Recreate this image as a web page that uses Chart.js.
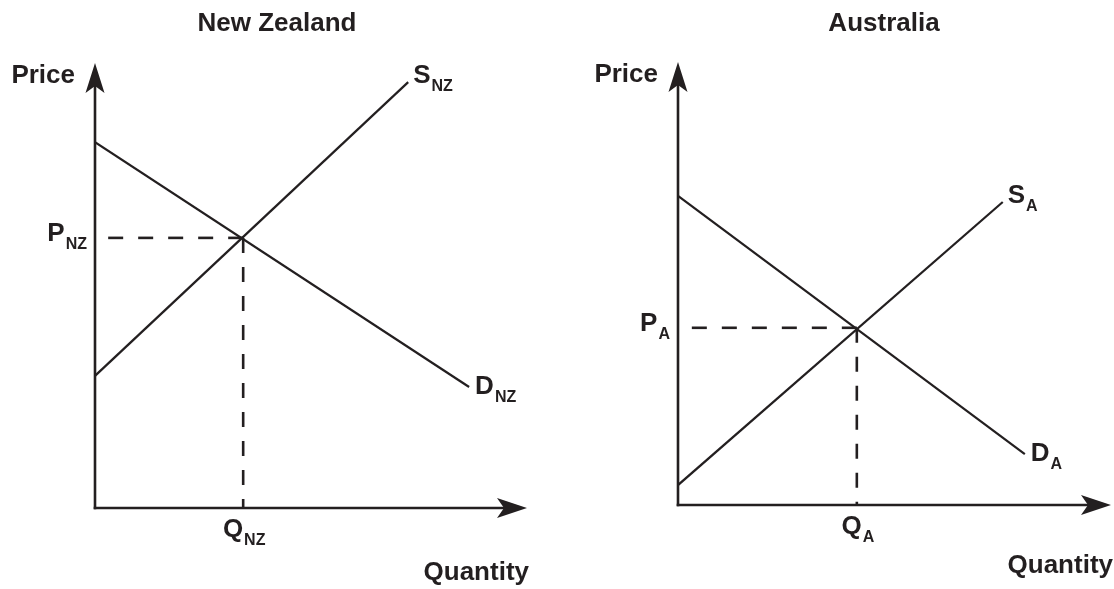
<!DOCTYPE html>
<html>
<head>
<meta charset="utf-8">
<script src="https://cdn.jsdelivr.net/npm/chart.js@4.4.1/dist/chart.umd.min.js"></script>
<style>
  body { margin: 0; background: #fff; }
  #contenedor { position: relative; width: 1114px; height: 589px; }
  .panel { position: absolute; top: 0; width: 557px; height: 589px; }
</style>
</head>
<body>
<div id="contenedor">
  <div class="panel" style="left:0"><canvas id="graficaNZ"></canvas></div>
  <div class="panel" style="left:557px"><canvas id="graficaAU"></canvas></div>
</div>
<script>
// Valores, en unidades arbitrarias (0-100 en cada eje)
// Nueva Zelanda
const nzDemanda = [{ x: 0, y: 82.2 }, { x: 86.6, y: 27.2 }];
const nzOferta = [{ x: 0, y: 29.7 }, { x: 72.5, y: 95.7 }];
const nzEquilibrio = { x: 34.3, y: 60.7 };

// Australia
const auDemanda = [{ x: 0, y: 69.8 }, { x: 80.1, y: 11.5 }];
const auOferta = [{ x: 0, y: 4.5 }, { x: 75.0, y: 68.4 }];
const auEquilibrio = { x: 41.3, y: 40.0 };

const tinta = '#231f20';
const fuente = '"Liberation Sans", Arial, sans-serif';

// Dibuja una letra con subindice (S_NZ, P_A ...)
function anchoSub(ctx, letra, sub) {
  ctx.font = 'bold 26px ' + fuente;
  let w = ctx.measureText(letra).width;
  ctx.font = 'bold 16px ' + fuente;
  return w + 1 + ctx.measureText(sub).width;
}

function textoSub(ctx, letra, sub, x, y) {
  ctx.textAlign = 'left';
  ctx.textBaseline = 'alphabetic';
  ctx.font = 'bold 26px ' + fuente;
  ctx.fillText(letra, x, y);
  let w = ctx.measureText(letra).width;
  ctx.font = 'bold 16px ' + fuente;
  ctx.fillText(sub, x + w + 1, y + 8);
}

// Ejes con flechas y todas las etiquetas
const pluginEjes = {
  id: 'ejes',
  afterDatasetsDraw(chart, args, opts) {
    const ctx = chart.ctx;
    const a = chart.chartArea;
    const xs = chart.scales.x;
    const ys = chart.scales.y;

    ctx.save();
    ctx.strokeStyle = tinta;
    ctx.fillStyle = tinta;
    ctx.lineWidth = 2.6;
    ctx.lineCap = 'butt';

    // eje vertical
    ctx.beginPath();
    ctx.moveTo(a.left, a.bottom + 1.3);
    ctx.lineTo(a.left, a.top + 22);
    ctx.stroke();
    // eje horizontal
    ctx.beginPath();
    ctx.moveTo(a.left - 1.3, a.bottom);
    ctx.lineTo(a.right - 22, a.bottom);
    ctx.stroke();

    // punta de flecha arriba
    ctx.beginPath();
    ctx.moveTo(a.left, a.top);
    ctx.lineTo(a.left + 9.5, a.top + 30);
    ctx.lineTo(a.left, a.top + 23);
    ctx.lineTo(a.left - 9.5, a.top + 30);
    ctx.closePath();
    ctx.fill();
    // punta de flecha derecha
    ctx.beginPath();
    ctx.moveTo(a.right, a.bottom);
    ctx.lineTo(a.right - 30, a.bottom - 10);
    ctx.lineTo(a.right - 23, a.bottom);
    ctx.lineTo(a.right - 30, a.bottom + 10);
    ctx.closePath();
    ctx.fill();

    // titulo
    ctx.font = 'bold 26px ' + fuente;
    ctx.textAlign = 'center';
    ctx.textBaseline = 'alphabetic';
    ctx.fillText(opts.titulo, opts.tituloX, 31);

    // Price / Quantity
    ctx.textAlign = 'right';
    ctx.fillText('Price', a.left - 20, a.top + 20);
    ctx.fillText('Quantity', a.right + 2, a.bottom + opts.cantidadDy);

    // etiquetas de las curvas
    const oferta = chart.data.datasets[1].data;
    const demanda = chart.data.datasets[0].data;
    const finS = oferta[oferta.length - 1];
    const finD = demanda[demanda.length - 1];
    textoSub(ctx, 'S', opts.sub, xs.getPixelForValue(finS.x) + 5, ys.getPixelForValue(finS.y) + 1);
    textoSub(ctx, 'D', opts.sub, xs.getPixelForValue(finD.x) + 6, ys.getPixelForValue(finD.y) + 7);

    // P y Q de equilibrio
    const eq = chart.data.datasets[2].data[0];
    let wP = anchoSub(ctx, 'P', opts.sub);
    textoSub(ctx, 'P', opts.sub, a.left - 8 - wP, ys.getPixelForValue(eq.y) + 3);
    let wQ = anchoSub(ctx, 'Q', opts.sub);
    textoSub(ctx, 'Q', opts.sub, xs.getPixelForValue(eq.x) + 1 - wQ / 2, a.bottom + 29);

    ctx.restore();
  }
};

function crearGrafica(id, demanda, oferta, eq, padding, etiquetas) {
  const ctx = document.getElementById(id).getContext('2d');
  const linea = {
    showLine: true,
    borderColor: tinta,
    borderWidth: 2.2,
    pointRadius: 0,
    fill: false
  };
  return new Chart(ctx, {
    type: 'scatter',
    data: {
      datasets: [
        Object.assign({ label: 'D', data: demanda }, linea),
        Object.assign({ label: 'S', data: oferta }, linea),
        // lineas de trazos desde el equilibrio hacia los ejes
        Object.assign({ label: 'P', data: [eq, { x: 0, y: eq.y }] }, linea, { borderDash: [15, 15], borderWidth: 2.6 }),
        Object.assign({ label: 'Q', data: [eq, { x: eq.x, y: 0 }] }, linea, { borderDash: [15, 14], borderWidth: 2.6 })
      ]
    },
    options: {
      responsive: true,
      maintainAspectRatio: false,
      animation: false,
      layout: { padding: padding },
      scales: {
        x: { type: 'linear', min: 0, max: 100, display: false },
        y: { type: 'linear', min: 0, max: 100, display: false }
      },
      plugins: {
        legend: { display: false },
        tooltip: { enabled: false },
        ejes: etiquetas
      }
    },
    plugins: [pluginEjes]
  });
}

crearGrafica('graficaNZ', nzDemanda, nzOferta, nzEquilibrio,
  { left: 95, right: 30, top: 63, bottom: 81 },
  { titulo: 'New Zealand', tituloX: 277, sub: 'NZ', cantidadDy: 72 });

crearGrafica('graficaAU', auDemanda, auOferta, auEquilibrio,
  { left: 121, right: 3, top: 62, bottom: 84 },
  { titulo: 'Australia', tituloX: 327, sub: 'A', cantidadDy: 68 });
</script>
</body>
</html>
